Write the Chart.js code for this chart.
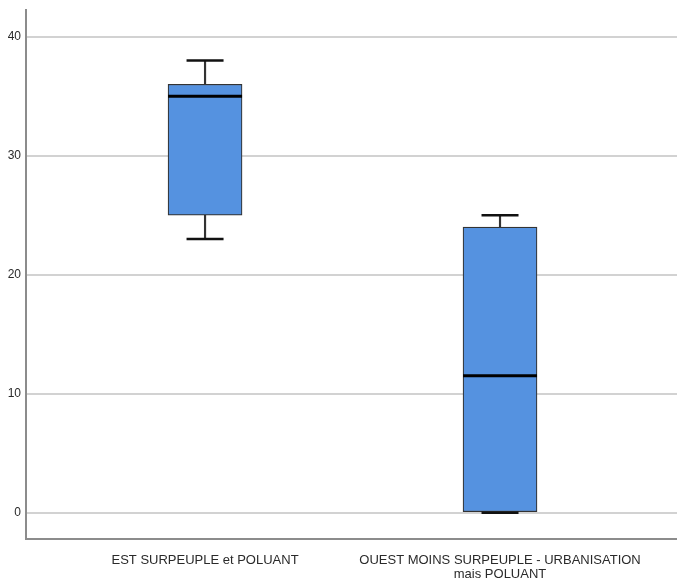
<!DOCTYPE html>
<html>
<head>
<meta charset="utf-8">
<script src="https://cdn.jsdelivr.net/npm/chart.js@4"></script>
<style>
  html, body { margin: 0; padding: 0; background: #ffffff; }
  #wrap { width: 677px; height: 587px; }
</style>
</head>
<body>
<div id="wrap"><canvas id="c" width="677" height="587"></canvas></div>
<script>
// Groups along the x axis (label lines per group)
const categories = [
  ["EST SURPEUPLE et POLUANT"],
  ["OUEST MOINS SURPEUPLE - URBANISATION", "mais POLUANT"]
];
// Five-number summary per group
const minimums  = [23, 0];
const quartile1 = [25, 0];
const medians   = [35, 11.5];
const quartile3 = [36, 24];
const maximums  = [38, 25];
// Y axis tick values
const yTicks = [0, 10, 20, 30, 40];

const FONT = "'Liberation Sans', Arial, sans-serif";

const idx = categories.map((_, i) => i);

const boxData      = idx.map(i => ({ x: i, y: [quartile1[i], quartile3[i]] }));
const upperStem    = idx.map(i => ({ x: i, y: [quartile3[i], maximums[i]] }));
const lowerStem    = idx.map(i => ({ x: i, y: [minimums[i], quartile1[i]] }));
const upperCaps    = idx.map(i => ({ x: i, y: maximums[i] }));
const lowerCaps    = idx.map(i => ({ x: i, y: minimums[i] }));
const medianPoints = idx.map(i => ({ x: i, y: medians[i] }));

const capStyle = {
  type: 'line', showLine: false, pointStyle: 'line',
  pointRadius: 18.5, pointHoverRadius: 18.5,
  pointBorderColor: '#111111', pointBorderWidth: 2.5, borderColor: '#111111'
};
const stemStyle = {
  type: 'bar', grouped: false, barThickness: 1.5,
  backgroundColor: '#333333', borderWidth: 0
};

new Chart(document.getElementById('c'), {
  data: {
    datasets: [
      { ...capStyle, data: medianPoints, pointRadius: 37, pointHoverRadius: 37, pointBorderWidth: 3, pointBorderColor: '#000000', order: 0 },
      { ...capStyle, data: upperCaps, order: 1 },
      { ...capStyle, data: lowerCaps, order: 1 },
      {
        type: 'bar', grouped: false, data: boxData, barThickness: 74,
        backgroundColor: '#5592e0', borderColor: '#333333', borderWidth: 1.2,
        borderSkipped: false, order: 2
      },
      { ...stemStyle, data: upperStem, order: 3 },
      { ...stemStyle, data: lowerStem, order: 3 }
    ]
  },
  options: {
    responsive: false,
    animation: false,
    events: [],
    layout: { autoPadding: false, padding: { top: 10, right: 0, left: 0, bottom: 0 } },
    plugins: { legend: { display: false }, tooltip: { enabled: false } },
    scales: {
      x: {
        type: 'linear',
        offset: false,
        bounds: 'data',
        min: -0.607, max: 1.6,
        afterBuildTicks: s => { s.ticks = idx.map(v => ({ value: v })); },
        afterFit: s => { s.height = 48; s.paddingLeft = 0; s.paddingRight = 0; },
        grid: { display: false, drawTicks: false, offset: false },
        border: { display: true, color: '#8c8c8c', width: 2 },
        ticks: {
          padding: 15,
          color: '#2a2a2a',
          maxRotation: 0, minRotation: 0, autoSkip: false,
          font: { family: FONT, size: 13, lineHeight: 1.05 },
          callback: v => categories[v] || ''
        }
      },
      y: {
        type: 'linear',
        min: -2.21, max: 42.24,
        afterBuildTicks: s => { s.ticks = yTicks.map(v => ({ value: v })); },
        afterFit: s => { s.width = 26; s.paddingTop = 0; s.paddingBottom = 0; },
        grid: { color: '#d2d2d2', lineWidth: 2, drawTicks: false },
        border: { display: true, color: '#8c8c8c', width: 2 },
        ticks: {
          padding: 5,
          color: '#2a2a2a',
          font: { family: FONT, size: 12 }
        }
      }
    }
  }
});
</script>
</body>
</html>
